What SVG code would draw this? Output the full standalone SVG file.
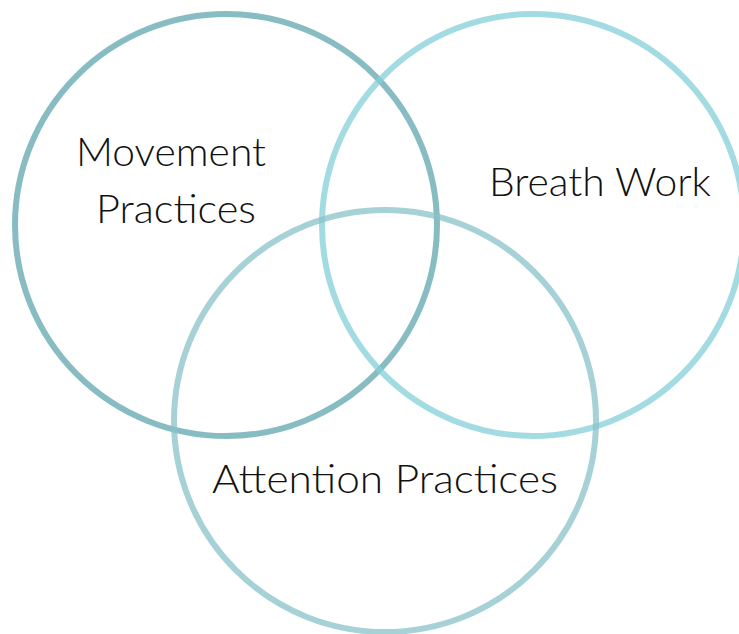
<svg xmlns="http://www.w3.org/2000/svg" width="739" height="634" viewBox="0 0 739 634">
  <style>
    .ring { fill: none; stroke-width: 6; opacity: 0.75; }
    .label { font-family: "Lato", "Liberation Sans", sans-serif; font-size: 39px; font-weight: 300; fill: #111111; }
  </style>
  <rect width="739" height="634" fill="#ffffff"/>
  <g id="movement">
    <circle class="ring" cx="226" cy="225" r="211" stroke="#5fa6ae"/>
    <text class="label" x="171" y="166" text-anchor="middle" textLength="190" lengthAdjust="spacingAndGlyphs">Movement</text>
    <text class="label" x="176" y="223" text-anchor="middle" textLength="160" lengthAdjust="spacingAndGlyphs">Practices</text>
  </g>
  <g id="breath">
    <circle class="ring" cx="533" cy="225" r="211" stroke="#83cfd7"/>
    <text class="label" x="600" y="196" text-anchor="middle" textLength="222" lengthAdjust="spacingAndGlyphs">Breath Work</text>
  </g>
  <g id="attention">
    <circle class="ring" cx="385" cy="421" r="211" stroke="#88c2c8"/>
    <text class="label" x="385" y="493" text-anchor="middle" textLength="346" lengthAdjust="spacingAndGlyphs">Attention Practices</text>
  </g>
  <g id="connectors"/>
</svg>
